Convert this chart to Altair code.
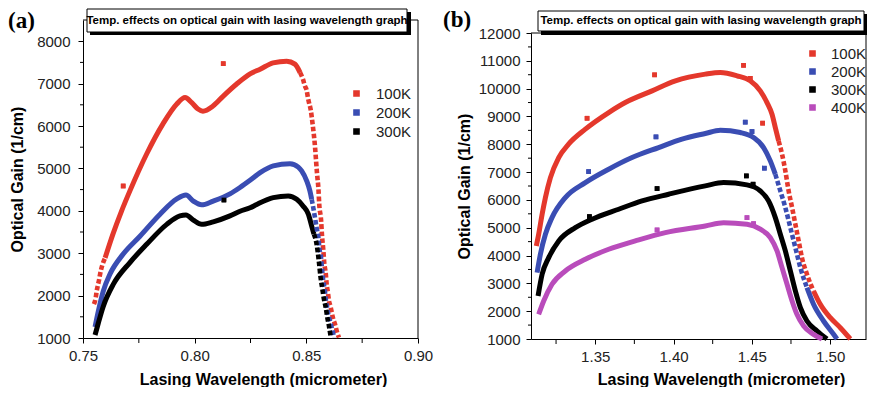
import altair as alt
import pandas as pd

# ---------------- Panel (a) data ----------------
A_X_100 = [0.7549, 0.7557, 0.7561, 0.7566, 0.7572, 0.7576, 0.7599, 0.7634, 0.7673, 0.7710,
           0.7785, 0.7858, 0.7920, 0.7957, 0.7987, 0.8015, 0.8037, 0.8082, 0.8127, 0.8188,
           0.8248, 0.8293, 0.8351, 0.8412, 0.8449, 0.8472, 0.8485, 0.8494, 0.8502, 0.8507,
           0.8512, 0.8519, 0.8528, 0.8539, 0.8543, 0.8548, 0.8554, 0.8558, 0.8566, 0.8570,
           0.8576, 0.8580, 0.8587, 0.8591, 0.8597, 0.8601, 0.8609, 0.8615, 0.8621, 0.8628,
           0.8636, 0.8646]
A_Y_100 = [1800, 1950, 2100, 2230, 2370, 2490, 2890, 3450, 4000, 4470,
           5340, 6050, 6520, 6670, 6550, 6400, 6350, 6470, 6700, 6990,
           7230, 7340, 7490, 7530, 7460, 7260, 7100, 6940, 6830, 6670,
           6550, 6400, 6050, 5500, 5220, 4870, 4530, 4140, 3780, 3430,
           3080, 2790, 2520, 2270, 2060, 1890, 1730, 1570, 1440, 1330,
           1170, 1010]

A_X_200 = [0.7554, 0.7569, 0.7591, 0.7621, 0.7680, 0.7755, 0.7845, 0.7920, 0.7961, 0.7994,
           0.8031, 0.8083, 0.8158, 0.8203, 0.8248, 0.8293, 0.8352, 0.8427, 0.8464, 0.8479,
           0.8502, 0.8516, 0.8524, 0.8531, 0.8539, 0.8546, 0.8554, 0.8558, 0.8566, 0.8571,
           0.8576, 0.8582, 0.8587, 0.8593, 0.8598, 0.8606, 0.8614, 0.8621, 0.8625]
A_Y_200 = [1260, 1640, 2110, 2510, 2980, 3400, 3920, 4280, 4370, 4230,
           4140, 4230, 4400, 4550, 4720, 4900, 5060, 5110, 5030, 4940,
           4700, 4470, 4270, 4075, 3830, 3600, 3365, 3130, 2890, 2580,
           2340, 2150, 1910, 1720, 1560, 1400, 1240, 1090, 1010]

A_X_300 = [0.7554, 0.7569, 0.7591, 0.7636, 0.7710, 0.7785, 0.7875, 0.7934, 0.7961, 0.7994,
           0.8031, 0.8083, 0.8158, 0.8203, 0.8248, 0.8278, 0.8352, 0.8419, 0.8457, 0.8486,
           0.8509, 0.8524, 0.8534, 0.8546, 0.8555, 0.8564, 0.8571, 0.8579, 0.8587, 0.8594,
           0.8600, 0.8606, 0.8610]
A_Y_300 = [1070, 1360, 1750, 2270, 2780, 3210, 3680, 3880, 3900, 3780,
           3680, 3740, 3880, 3990, 4070, 4150, 4310, 4350, 4270, 4110,
           3920, 3640, 3450, 3210, 2860, 2420, 2180, 1910, 1720, 1480,
           1320, 1130, 1010]

A_OUT_T = ["100K", "100K", "300K"]
A_OUT_X = [0.7680, 0.8128, 0.8131]
A_OUT_Y = [4585, 7470, 4255]

# ---------------- Panel (b) data ----------------
B_X_100 = [1.3124, 1.3139, 1.3161, 1.3182, 1.3214, 1.3267, 1.3330, 1.3437, 1.3586, 1.3692,
           1.3863, 1.4012, 1.4203, 1.4299, 1.4405, 1.4490, 1.4554, 1.4597, 1.4629, 1.4650,
           1.4671, 1.4693, 1.4714, 1.4735, 1.4757, 1.4778, 1.4799, 1.4820, 1.4852, 1.4894,
           1.4937, 1.5001, 1.5065, 1.5129]
B_Y_100 = [4345, 4766, 5485, 6083, 6802, 7522, 8004, 8543, 9140, 9500,
           9921, 10281, 10521, 10580, 10460, 10281, 9921, 9500, 9080, 8600,
           8122, 7644, 7043, 6324, 5723, 5126, 4525, 3924, 3327, 2727,
           2248, 1766, 1406, 1000]

B_X_200 = [1.3129, 1.3150, 1.3182, 1.3224, 1.3309, 1.3437, 1.3586, 1.3735, 1.3905, 1.4054,
           1.4203, 1.4299, 1.4427, 1.4511, 1.4575, 1.4618, 1.4650, 1.4682, 1.4714, 1.4746,
           1.4778, 1.4810, 1.4852, 1.4894, 1.4958, 1.5022, 1.5044]
B_Y_200 = [3385, 4047, 4766, 5363, 6083, 6622, 7104, 7522, 7882, 8183,
           8387, 8504, 8421, 8243, 7882, 7403, 6924, 6324, 5723, 5003,
           4284, 3565, 2845, 2248, 1647, 1168, 1000]

B_X_300 = [1.3135, 1.3161, 1.3203, 1.3267, 1.3373, 1.3480, 1.3650, 1.3799, 1.3969, 1.4203,
           1.4320, 1.4469, 1.4554, 1.4607, 1.4650, 1.4682, 1.4714, 1.4746, 1.4778, 1.4810,
           1.4852, 1.4917, 1.4980]
B_Y_300 = [2547, 3327, 3924, 4525, 5003, 5305, 5665, 5964, 6205, 6504,
           6622, 6540, 6324, 5964, 5363, 4766, 4165, 3446, 2727, 2126,
           1647, 1288, 1000]

B_X_400 = [1.3139, 1.3171, 1.3224, 1.3309, 1.3437, 1.3586, 1.3756, 1.3948, 1.4203, 1.4320,
           1.4469, 1.4554, 1.4618, 1.4661, 1.4693, 1.4725, 1.4757, 1.4788, 1.4831, 1.4894,
           1.4948]
B_Y_400 = [1888, 2367, 2967, 3446, 3867, 4227, 4525, 4824, 5065, 5183,
           5126, 4946, 4644, 4165, 3565, 2967, 2367, 1888, 1468, 1168,
           1000]

B_OUT_T = ["100K", "100K", "100K", "100K", "100K",
           "200K", "200K", "200K", "200K", "200K",
           "300K", "300K", "300K", "300K",
           "400K", "400K", "400K"]
B_OUT_X = [1.3448, 1.3879, 1.4447, 1.4490, 1.4569,
           1.3458, 1.3888, 1.4458, 1.4501, 1.4580,
           1.3463, 1.3895, 1.4465, 1.4508,
           1.3895, 1.4469, 1.4511]
B_OUT_Y = [8935, 10496, 10838, 10371, 8759,
           7018, 8266, 8795, 8457, 7140,
           5400, 6407, 6863, 6565,
           4921, 5363, 5147]

# ---------------- axis ticks ----------------
A_Y_TICKS = [1000, 2000, 3000, 4000, 5000, 6000, 7000, 8000]
A_Y_MINOR = [1500, 2500, 3500, 4500, 5500, 6500, 7500]
A_X_TICKS = [0.75, 0.80, 0.85, 0.90]
A_X_MINOR = [0.775, 0.825, 0.875]
B_Y_TICKS = [1000, 2000, 3000, 4000, 5000, 6000, 7000, 8000, 9000, 10000, 11000, 12000]
B_Y_MINOR = [1500, 2500, 3500, 4500, 5500, 6500, 7500, 8500, 9500, 10500, 11500]
B_X_TICKS = [1.35, 1.40, 1.45, 1.50]
B_X_MINOR = [1.325, 1.375, 1.425, 1.475]

TEMPS_A = ["100K", "200K", "300K"]
TEMPS_B = ["100K", "200K", "300K", "400K"]
PALETTE = {"100K": "#e4382c", "200K": "#3a4db3", "300K": "#000000", "400K": "#b94cbb"}

TITLE_TEXT = "Temp. effects on optical gain with lasing wavelength graph"
X_TITLE = "Lasing Wavelength (micrometer)"
Y_TITLE = "Optical Gain (1/cm)"

FONT = "Liberation Sans"

# sections of each curve drawn as separate square dots (x ranges)
DOTTED_A = {"100K": [(0.7549, 0.7599), (0.8472, 0.8646)],
            "200K": [(0.8524, 0.8625)],
            "300K": [(0.8534, 0.8610)]}
DOTTED_B = {"100K": [(1.4671, 1.4894)],
            "200K": [(1.4650, 1.4852)],
            "300K": [],
            "400K": []}


def pieces(xs, ys, temp, ranges):
    rows = []
    kinds = []
    for i in range(len(xs) - 1):
        m = (xs[i] + xs[i + 1]) / 2
        kinds.append("dash" if any(lo < m < hi for lo, hi in ranges) else "solid")
    start = 0
    pid = 0
    for i in range(1, len(kinds) + 1):
        if i == len(kinds) or kinds[i] != kinds[start]:
            for j in range(start, i + 1):
                rows.append(dict(temp=temp, x=xs[j], y=ys[j], kind=kinds[start],
                                 piece=f"{temp}-{pid}", o=j))
            pid += 1
            start = i
    return rows


one = pd.DataFrame({"a": [0]})


def panel(curves, out_df, temps, dotted, xdom, ydom, xticks, xminor, yticks, yminor,
          w, h, yrange, ytop, ytitle_x, ytitle_y, xtitle_x, xtitle_y, ylabpad,
          legx, legy, legrow, leglaboff, letter, letter_x, letter_y,
          box, shadow, text_xy, extra=None):
    rows = []
    for t, (xs, ys) in curves.items():
        rows += pieces(xs, ys, t, dotted[t])
    df = pd.DataFrame(rows)
    cscale = alt.Scale(domain=temps, range=[PALETTE[t] for t in temps])
    xsc = alt.Scale(domain=xdom, nice=False, zero=False)
    ysc = alt.Scale(domain=ydom, nice=False, zero=False, range=yrange)

    xaxis = alt.Axis(values=xticks, format=".2f", title=X_TITLE, grid=False, labelFlush=False,
                     labelFontSize=15, labelColor="#222", labelFont=FONT, labelPadding=5,
                     tickSize=5, tickColor="black", domainColor="black",
                     titleFont=FONT, titleFontSize=16, titleFontWeight="bold", titleColor="black",
                     titleX=xtitle_x, titleY=xtitle_y, titleBaseline="middle", titleAlign="center")
    yaxis = alt.Axis(values=yticks, format="d", title=Y_TITLE, grid=False, labelFlush=False,
                     labelFontSize=15, labelColor="#222", labelFont=FONT, labelPadding=ylabpad,
                     tickSize=5, tickColor="black", domainColor="black",
                     titleFont=FONT, titleFontSize=16, titleFontWeight="bold", titleColor="black",
                     titleX=ytitle_x, titleY=ytitle_y, titleBaseline="middle", titleAlign="center",
                     titleAngle=270)
    X = lambda f: alt.X(f, scale=xsc, axis=xaxis)
    Y = lambda f: alt.Y(f, scale=ysc, axis=yaxis)

    base = alt.Chart(df)
    pts = alt.Chart(out_df).mark_square(size=22, opacity=1).encode(
        x=X("x:Q"), y=Y("y:Q"),
        color=alt.Color("temp:N", scale=cscale,
                        legend=alt.Legend(orient="none", legendX=legx, legendY=legy, title=None,
                                          symbolType="square", symbolSize=26,
                                          labelFontSize=15, labelFont=FONT, labelColor="#222",
                                          labelOffset=leglaboff, rowPadding=legrow, padding=0)),
    )
    solid = base.transform_filter(alt.datum.kind == "solid").mark_line(
        strokeWidth=5, interpolate="monotone").encode(
        x=X("x:Q"), y=Y("y:Q"),
        color=alt.Color("temp:N", scale=cscale, legend=None),
        detail="piece:N", order="o:Q")
    dash = base.transform_filter(alt.datum.kind == "dash").mark_line(
        strokeWidth=4.6, strokeDash=[4.6, 2.4], strokeCap="butt", interpolate="monotone").encode(
        x=X("x:Q"), y=Y("y:Q"),
        color=alt.Color("temp:N", scale=cscale, legend=None),
        detail="piece:N", order="o:Q")

    yminor_l = alt.Chart(pd.DataFrame({"y": yminor})).mark_rule(color="black", strokeWidth=1).encode(
        y=Y("y:Q"), x=alt.value(-3), x2=alt.value(0))
    xminor_l = alt.Chart(pd.DataFrame({"x": xminor})).mark_rule(color="black", strokeWidth=1).encode(
        x=X("x:Q"), y=alt.value(h), y2=alt.value(h + 5))

    top_rule = alt.Chart(one).mark_rule(color="black", strokeWidth=1).encode(
        x=alt.value(0), x2=alt.value(w), y=alt.value(ytop))
    right_rule = alt.Chart(one).mark_rule(color="black", strokeWidth=1).encode(
        x=alt.value(w), y=alt.value(ytop), y2=alt.value(h))

    shadow_l = alt.Chart(one).mark_rect(color="black").encode(
        x=alt.value(shadow[0]), x2=alt.value(shadow[1]),
        y=alt.value(shadow[2]), y2=alt.value(shadow[3]))
    box_l = alt.Chart(one).mark_rect(fill="white", stroke="black", strokeWidth=1).encode(
        x=alt.value(box[0]), x2=alt.value(box[1]), y=alt.value(box[2]), y2=alt.value(box[3]))
    title_l = alt.Chart(pd.DataFrame({"t": [TITLE_TEXT]})).mark_text(
        font=FONT, fontSize=11.5, fontWeight="bold", color="black",
        align="center", baseline="middle").encode(
        x=alt.value(text_xy[0]), y=alt.value(text_xy[1]), text="t:N")
    letter_l = alt.Chart(pd.DataFrame({"t": [letter]})).mark_text(
        font="Liberation Serif", fontSize=23, fontWeight="bold", color="black",
        align="left", baseline="middle").encode(
        x=alt.value(letter_x), y=alt.value(letter_y), text="t:N")

    layers = [pts, solid, dash, pts, yminor_l, xminor_l, top_rule, right_rule,
              shadow_l, box_l, title_l, letter_l]
    if extra is not None:
        layers.append(extra)
    return alt.layer(*layers).properties(width=w, height=h)


out_a = pd.DataFrame({"temp": A_OUT_T, "x": A_OUT_X, "y": A_OUT_Y})
out_b = pd.DataFrame({"temp": B_OUT_T, "x": B_OUT_X, "y": B_OUT_Y})

anchor = alt.Chart(one).mark_rule(strokeOpacity=0, stroke="white").encode(
    x=alt.value(-75), x2=alt.value(-74), y=alt.value(-11), y2=alt.value(-11))

pa = panel({"100K": (A_X_100, A_Y_100), "200K": (A_X_200, A_Y_200), "300K": (A_X_300, A_Y_300)},
           out_a, TEMPS_A, DOTTED_A, [0.75, 0.90], [1000, 8500], A_X_TICKS, A_X_MINOR,
           A_Y_TICKS, A_Y_MINOR, 335, 318, [318, 0], 0, -66, 159, 180, 41, 8,
           266, 66, 3, 12, "(a)", -75, 1,
           box=(4, 324, -11, 12), shadow=(7, 328, -8, 15), text_xy=(164, 0.5), extra=anchor)

pb = panel({"100K": (B_X_100, B_Y_100), "200K": (B_X_200, B_Y_200), "300K": (B_X_300, B_Y_300),
            "400K": (B_X_400, B_Y_400)},
           out_b, TEMPS_B, DOTTED_B, [1.309, 1.5229], [1000, 12000], B_X_TICKS, B_X_MINOR,
           B_Y_TICKS, B_Y_MINOR, 335, 319, [319, 13], 13, -67, 166, 190, 40, 6,
           274, 26, 2, 11, "(b)", -88, 0,
           box=(7, 333, -9, 11), shadow=(10, 336, -6, 15), text_xy=(170, 1))

chart = alt.hconcat(pa, pb, spacing=113, bounds="flush").resolve_scale(
    color="independent", x="independent", y="independent").resolve_legend(
    color="independent").properties(
    padding={"left": 0, "top": 0, "right": 0, "bottom": 0}).configure_view(stroke=None)

chart.save("out.html", embed_options={"renderer": "svg", "actions": False})
